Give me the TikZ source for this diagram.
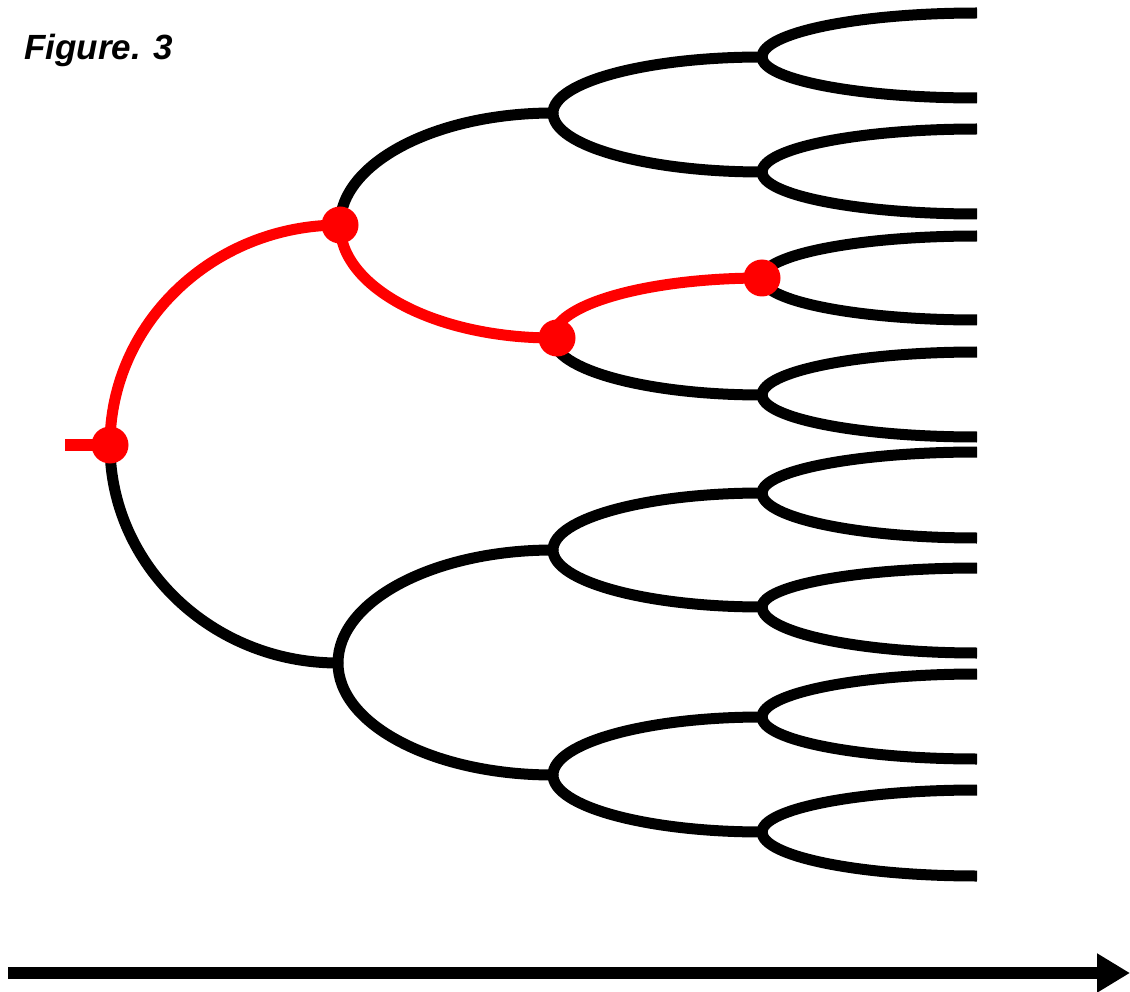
\documentclass[tikz,border=0pt]{standalone}
\usepackage{fontspec}
\setmainfont{Liberation Sans}
\usetikzlibrary{calc,arrows.meta}
\begin{document}
\begin{tikzpicture}[x=1pt,y=-1pt,
  limbline/.style={line width=11pt, black},
  hot/.style={red},
  junction/.style={circle, fill=red, inner sep=0pt, minimum size=37pt},
]
\useasboundingbox (0,0) rectangle (1130,992);
% quarter-ellipse branch: leaves the parent vertically, reaches the child horizontally
\newcommand\limb[3][]{\draw[limbline,#1] (#2) .. controls ($(#2)!0.5523!(#2|-#3)$) and ($(#3)!0.5523!(#2|-#3)$) .. (#3);}

% tree points
\coordinate (r) at (110,445);
\coordinate (a) at (340,225);   \coordinate (b) at (338,663);
\coordinate (aa) at (553,113);  \coordinate (ab) at (553,338);
\coordinate (ba) at (553,550);  \coordinate (bb) at (553,775);
\coordinate (aaa) at (762,57);  \coordinate (aab) at (762,172);
\coordinate (aba) at (762,278); \coordinate (abb) at (762,395);
\coordinate (baa) at (762,493); \coordinate (bab) at (762,607);
\coordinate (bba) at (762,717); \coordinate (bbb) at (762,832);
\coordinate (aaaa) at (977,13);  \coordinate (aaab) at (977,98);
\coordinate (aaba) at (977,129); \coordinate (aabb) at (977,214);
\coordinate (abaa) at (977,236); \coordinate (abab) at (977,320);
\coordinate (abba) at (977,352); \coordinate (abbb) at (977,437);
\coordinate (baaa) at (977,452); \coordinate (baab) at (977,538);
\coordinate (baba) at (977,568); \coordinate (babb) at (977,653);
\coordinate (bbaa) at (977,674); \coordinate (bbab) at (977,759);
\coordinate (bbba) at (977,790); \coordinate (bbbb) at (977,876);
\coordinate (stub) at (65,445);

% black branches
\limb{r}{b}
\limb{a}{aa}
\limb{b}{ba} \limb{b}{bb}
\limb{aa}{aaa} \limb{aa}{aab}
\limb{ab}{abb}
\limb{ba}{baa} \limb{ba}{bab}
\limb{bb}{bba} \limb{bb}{bbb}
\foreach \p in {aaa,aab,aba,abb,baa,bab,bba,bbb}{
  \limb{\p}{\p a} \limb{\p}{\p b}
}

% highlighted path
\draw[limbline, hot, line width=12pt] (stub) -- (r);
\limb[hot]{r}{a}
\limb[hot]{a}{ab}
\limb[hot]{ab}{aba}

\node[junction] (jr) at (r) {};
\node[junction] (ja) at (a) {};
\node[junction] (jab) at ([xshift=4pt]ab) {};
\node[junction] (jaba) at (aba) {};

% title
\node[anchor=base west, inner sep=0pt, font=\bfseries\itshape\fontsize{35}{40}\selectfont] (title) at (24,60) {Figure. 3};

% time axis
\coordinate (t0) at (8,973);
\coordinate (t1) at (1130,973);
\draw[line width=12pt, -{Triangle[length=33pt,width=37pt]}] (t0) -- (t1);
\end{tikzpicture}
\end{document}
